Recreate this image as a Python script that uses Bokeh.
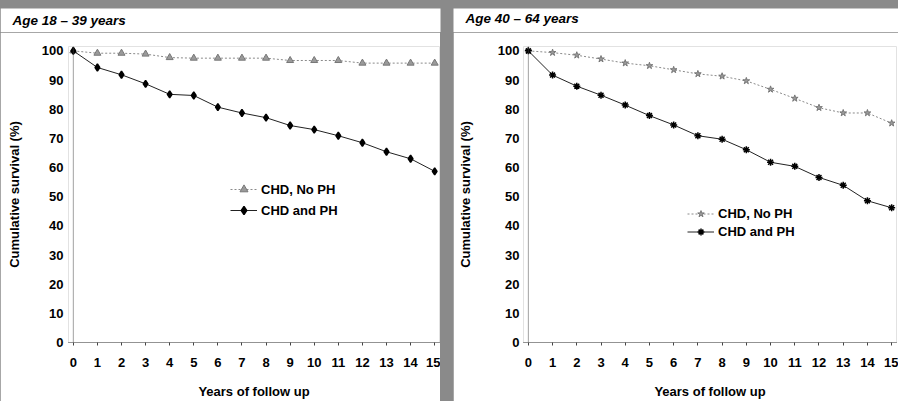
from bokeh.plotting import figure
from bokeh.layouts import row, column
from bokeh.models import Range1d, Legend, LegendItem, FixedTicker, Span
from bokeh.core.properties import value
from bokeh.embed import file_html
from bokeh.resources import INLINE

years = list(range(16))
x_ticks = list(range(16))
y_ticks = list(range(0, 101, 10))

# Age 18 - 39 years
young_no_ph = [100, 99.2, 99.2, 98.9, 97.7, 97.5, 97.5, 97.5, 97.5, 96.7, 96.7, 96.7, 95.8, 95.8, 95.8, 95.8]
young_ph = [100, 94.3, 91.8, 88.7, 85.1, 84.7, 80.7, 78.7, 77.1, 74.4, 73.0, 70.9, 68.5, 65.4, 63.0, 58.7]

# Age 40 - 64 years
old_no_ph = [100, 99.4, 98.5, 97.2, 95.8, 94.9, 93.5, 92.1, 91.3, 89.7, 86.8, 83.7, 80.5, 78.7, 78.7, 75.2]
old_ph = [100, 91.7, 87.9, 84.8, 81.4, 77.8, 74.6, 70.9, 69.7, 66.1, 61.8, 60.4, 56.6, 53.9, 48.6, 46.2]

titles = ["Age 18 \u2013 39 years", "Age 40 \u2013 64 years"]
series_names = ["CHD, No PH", "CHD and PH"]
x_title = "Years of follow up"
y_title = "Cumulative survival (%)"

FONT = "Liberation Sans"
GREY = "#8a8a8a"
W = 898
HEAD = 32
H = 401 - HEAD
LW, GAP = 440, 13
RW = W - LW - GAP

# header strip: white panel tops and the two titles (pixel coordinates)
panel_left = [0, LW + GAP]
panel_right = [LW, W + 2]
title_x = [12, LW + GAP + 12]
title_y = [12.5, 14]


def header():
    t = figure(width=W, height=HEAD, output_backend="svg", toolbar_location=None,
               x_range=Range1d(0, W), y_range=Range1d(0, HEAD),
               x_axis_type=None, y_axis_type=None, min_border=0,
               background_fill_color=GREY, border_fill_color=GREY)
    t.outline_line_color = None
    t.grid.visible = False
    t.quad(left=panel_left, right=panel_right, bottom=[-3, -3], top=[HEAD - 8, HEAD - 8],
           fill_color="white", line_color=None)
    t.text(x=title_x, y=title_y, text=titles, text_font=value(FONT),
           text_font_style="bold italic", text_font_size="13.5px",
           text_color="black", text_baseline="alphabetic", text_align="left")
    return t


def make_panel(no_ph, ph, width, left, right, top, bottom,
               markers, leg_loc, leg_h, lab_standoff, ax_standoff):
    p = figure(width=width, height=H, output_backend="svg", toolbar_location=None,
               x_range=Range1d(-0.2, 15.2), y_range=Range1d(0, 101.5),
               min_border_left=left, min_border_right=right,
               min_border_top=top, min_border_bottom=bottom,
               background_fill_color="white", border_fill_color="white")
    p.outline_line_color = None
    p.grid.visible = False

    r1l = p.line(years, no_ph, line_color="#8a8a8a", line_width=1, line_dash="2 2")
    r1m = p.scatter(years, no_ph, marker=markers[0], size=7, fill_color="#9a9a9a",
                    line_color="#777777", line_width=1)
    r2l = p.line(years, ph, line_color="#222222", line_width=1)
    r2m = p.scatter(years, ph, marker=markers[1], size=7, fill_color="black",
                    line_color="black", line_width=1.5)

    leg = Legend(items=[LegendItem(label=series_names[0], renderers=[r1l, r1m]),
                        LegendItem(label=series_names[1], renderers=[r2l, r2m])],
                 location=leg_loc, padding=0, margin=0, spacing=1,
                 glyph_width=27, glyph_height=leg_h, label_height=leg_h,
                 label_standoff=4, border_line_alpha=0, background_fill_alpha=0,
                 label_text_font=FONT, label_text_font_style="bold",
                 label_text_font_size="13px", label_text_color="black")
    p.add_layout(leg, "center")

    for ax in (p.xaxis[0], p.yaxis[0]):
        ax.axis_line_color = "#444444"
        ax.axis_line_dash = "1 1"
        ax.major_tick_line_color = "#444444"
        ax.major_tick_in = 0
        ax.major_tick_out = 3
        ax.minor_tick_line_color = None
        ax.major_label_text_font = FONT
        ax.major_label_text_font_style = "bold"
        ax.major_label_text_font_size = "13px"
        ax.major_label_text_color = "black"
        ax.axis_label_text_font = FONT
        ax.axis_label_text_font_style = "bold"
        ax.axis_label_text_font_size = "13px"
        ax.axis_label_text_color = "black"

    p.xaxis.ticker = FixedTicker(ticks=x_ticks)
    p.yaxis.ticker = FixedTicker(ticks=y_ticks)
    p.xaxis.axis_label = x_title
    p.yaxis.axis_label = y_title
    p.yaxis.axis_line_color = None
    p.yaxis.major_tick_out = 0
    p.xaxis.major_label_standoff = 12
    p.xaxis.axis_label_standoff = 14
    p.yaxis.major_label_standoff = lab_standoff
    p.yaxis.axis_label_standoff = ax_standoff
    p.add_layout(Span(location=0, dimension="height", line_color="#444444",
                      line_width=1, line_dash="1 1"))
    return p


p1 = make_panel(young_no_ph, young_ph, LW, 68, 1, 14, 57,
                ("triangle", "diamond"), (162, 122), 20, 5, 17)
p2 = make_panel(old_no_ph, old_ph, RW, 70, 2, 12, 57,
                ("star", "asterisk"), (164, 102), 17, 4, 22)

layout = column(header(), row(p1, p2, spacing=GAP), spacing=0,
                styles={"background-color": GREY})

open("out.html", "w").write(file_html(layout, INLINE))
